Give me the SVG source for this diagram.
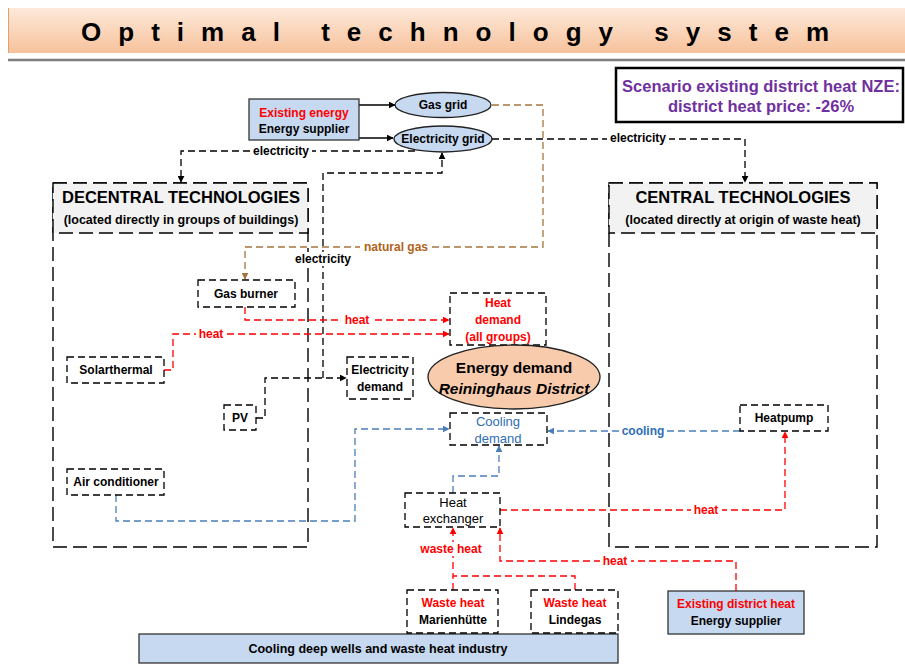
<svg xmlns="http://www.w3.org/2000/svg" width="905" height="666" viewBox="0 0 905 666">
<defs>
<linearGradient id="tg" x1="0" y1="0" x2="0" y2="1">
<stop offset="0" stop-color="#fde9da"/>
<stop offset="1" stop-color="#f7c29c"/>
</linearGradient>
<marker id="ak" viewBox="0 0 10 10" refX="9" refY="5" markerWidth="7" markerHeight="7" orient="auto" markerUnits="userSpaceOnUse"><path d="M0,0 L10,5 L0,10 z" fill="#000"/></marker>
<marker id="ar" viewBox="0 0 10 10" refX="9" refY="5" markerWidth="7" markerHeight="7" orient="auto" markerUnits="userSpaceOnUse"><path d="M0,0 L10,5 L0,10 z" fill="#ff0000"/></marker>
<marker id="ab" viewBox="0 0 10 10" refX="9" refY="5" markerWidth="7" markerHeight="7" orient="auto" markerUnits="userSpaceOnUse"><path d="M0,0 L10,5 L0,10 z" fill="#4a7ebb"/></marker>
<marker id="an" viewBox="0 0 10 10" refX="9" refY="5" markerWidth="7" markerHeight="7" orient="auto" markerUnits="userSpaceOnUse"><path d="M0,0 L10,5 L0,10 z" fill="#a5753f"/></marker>
</defs>
<style>
text{font-family:"Liberation Sans",Arial,sans-serif;font-size:12px;text-anchor:middle}
.b{font-weight:bold}
.red{fill:#ff0000}
.blu{fill:#2f6eb5}
.brn{fill:#b0621a}
.pur{fill:#7030a0}
.node{fill:#fff;stroke:#000;stroke-width:1.3;stroke-dasharray:7 4}
.big{fill:#fff;stroke:#000;stroke-width:1.4;stroke-dasharray:14 6}
.hdr{fill:#f2f2f2;stroke:#000;stroke-width:1.4;stroke-dasharray:14 6}
.sup{fill:#c6d9f0;stroke:#333;stroke-width:1.3}
.ell{fill:#c6d9f0;stroke:#222;stroke-width:1.3}
.ck{fill:none;stroke:#000;stroke-width:1.3;stroke-dasharray:7 4}
.cr{fill:none;stroke:#ff0000;stroke-width:1.3;stroke-dasharray:7 4}
.cb{fill:none;stroke:#4a7ebb;stroke-width:1.3;stroke-dasharray:7 4}
.cn{fill:none;stroke:#a5753f;stroke-width:1.3;stroke-dasharray:7 4}
.lbg{fill:#fff}
.m{font-size:13px}
</style>

<g id="title">
<rect x="8" y="8" width="897" height="45" fill="url(#tg)"/>
<line x1="8.5" y1="8" x2="8.5" y2="53" stroke="#e0a070" stroke-width="1"/>
<text x="455" y="41" class="b" style="font-size:26px" textLength="748" lengthAdjust="spacing">Optimal technology system</text>
<line x1="8" y1="60" x2="905" y2="60" stroke="#7f7f7f" stroke-width="2.5"/>
</g>

<g id="scenario">
<rect x="616" y="68" width="287" height="54" fill="#fff" stroke="#000" stroke-width="2.5"/>
<text x="761" y="92" class="b pur" style="font-size:16.5px">Scenario existing district heat NZE:</text>
<text x="761" y="112" class="b pur" style="font-size:16.5px">district heat price: -26%</text>
</g>

<g id="decentral">
<rect x="53" y="183" width="255" height="364" class="big"/>
<rect x="53" y="183" width="255" height="50" class="hdr"/>
<text x="181" y="203" class="b" style="font-size:16.5px">DECENTRAL TECHNOLOGIES</text>
<text x="181" y="224" class="b" style="font-size:12.5px">(located directly in groups of buildings)</text>
</g>

<g id="central">
<rect x="609" y="183" width="268" height="364" class="big"/>
<rect x="609" y="183" width="268" height="50" class="hdr"/>
<text x="743" y="203" class="b" style="font-size:16.5px">CENTRAL TECHNOLOGIES</text>
<text x="743" y="224" class="b" style="font-size:12.5px">(located directly at origin of waste heat)</text>
</g>

<g id="connectors">
<line x1="359" y1="105" x2="395" y2="105" stroke="#000" stroke-width="1.3" marker-end="url(#ak)"/>
<line x1="359" y1="138" x2="393" y2="138" stroke="#000" stroke-width="1.3" marker-end="url(#ak)"/>
<path class="ck" d="M415,151 H181 V182" marker-end="url(#ak)"/>
<path class="ck" d="M492,139 H745 V182" marker-end="url(#ak)"/>
<path class="cn" d="M492,105 H543 V247 H245 V279" marker-end="url(#an)"/>
<path class="ck" d="M256,418 H265 V378 H346" marker-end="url(#ak)"/>
<path class="ck" d="M323,378 V173 H442 V153" marker-end="url(#ak)"/>
<path class="cr" d="M245,307 V320 H449" marker-end="url(#ar)"/>
<path class="cr" d="M164,370 H173 V334 H449" marker-end="url(#ar)"/>
<path class="cb" d="M116,495 V521 H355 V429 H449" marker-end="url(#ab)"/>
<path class="cb" d="M740,431 H548" marker-end="url(#ab)"/>
<path class="cb" d="M453,493 V476 H499 V446" marker-end="url(#ab)"/>
<path class="cr" d="M500,510 H785 V432" marker-end="url(#ar)"/>
<path class="cr" d="M575,590 V576 H453 V528" marker-end="url(#ar)"/>
<path class="cr" d="M453,590 V576"/>
<path class="cr" d="M736,591 V561 H500 V528" marker-end="url(#ar)"/>

<rect x="250" y="144" width="62" height="14" class="lbg"/>
<text x="281" y="155" class="b">electricity</text>
<rect x="607" y="131" width="62" height="14" class="lbg"/>
<text x="638" y="142" class="b">electricity</text>
<rect x="360" y="240" width="72" height="14" class="lbg"/>
<text x="396" y="251" class="b brn">natural gas</text>
<rect x="292" y="252" width="62" height="14" class="lbg"/>
<text x="323" y="263" class="b">electricity</text>
<rect x="342" y="313" width="31" height="14" class="lbg"/>
<text x="357" y="324" class="b red">heat</text>
<rect x="196" y="327" width="31" height="14" class="lbg"/>
<text x="211" y="338" class="b red">heat</text>
<rect x="620" y="424" width="46" height="14" class="lbg"/>
<text x="643" y="435" class="b blu">cooling</text>
<rect x="691" y="503" width="31" height="14" class="lbg"/>
<text x="706" y="514" class="b red">heat</text>
<rect x="417" y="542" width="69" height="14" class="lbg"/>
<text x="451" y="553" class="b red">waste heat</text>
<rect x="600" y="554" width="31" height="14" class="lbg"/>
<text x="615" y="565" class="b red">heat</text>
</g>

<g id="supplier">
<rect x="249" y="99" width="110" height="41" class="sup"/>
<text x="304" y="117" class="b red">Existing energy</text>
<text x="304" y="133" class="b">Energy supplier</text>
</g>

<g id="gas-grid">
<ellipse cx="443" cy="105" rx="48" ry="12.5" class="ell"/>
<text x="443" y="109" class="b">Gas grid</text>
</g>

<g id="electricity-grid">
<ellipse cx="443" cy="139" rx="49" ry="13" class="ell"/>
<text x="443" y="143" class="b">Electricity grid</text>
</g>

<g id="gas-burner">
<rect x="198" y="280" width="97" height="27" class="node"/>
<text x="246" y="298" class="b">Gas burner</text>
</g>

<g id="solarthermal">
<rect x="67" y="357" width="97" height="26" class="node"/>
<text x="116" y="374" class="b">Solarthermal</text>
</g>

<g id="pv">
<rect x="224" y="405" width="32" height="25" class="node"/>
<text x="240" y="422" class="b">PV</text>
</g>

<g id="air-conditioner">
<rect x="67" y="469" width="97" height="26" class="node"/>
<text x="116" y="486" class="b">Air conditioner</text>
</g>

<g id="heat-demand">
<rect x="450" y="293" width="96" height="52" class="node"/>
<text x="498" y="307" class="b red">Heat</text>
<text x="498" y="324" class="b red">demand</text>
<text x="498" y="341" class="b red">(all groups)</text>
</g>

<g id="electricity-demand">
<rect x="347" y="357" width="66" height="42" class="node"/>
<text x="380" y="374" class="b">Electricity</text>
<text x="380" y="391" class="b">demand</text>
</g>

<g id="energy-demand">
<ellipse cx="514" cy="377" rx="86" ry="32" fill="#f8cbad" stroke="#222" stroke-width="1.3"/>
<text x="514" y="373" class="b" style="font-size:15.5px">Energy demand</text>
<text x="514" y="394" class="b" style="font-size:15.5px;font-style:italic">Reininghaus District</text>
</g>

<g id="cooling-demand">
<rect x="450" y="413" width="97" height="32" class="node"/>
<text x="498" y="426" class="blu m">Cooling</text>
<text x="498" y="443" class="blu m">demand</text>
</g>

<g id="heatpump">
<rect x="740" y="405" width="88" height="26" class="node"/>
<text x="784" y="422" class="b">Heatpump</text>
</g>

<g id="heat-exchanger">
<rect x="405" y="493" width="95" height="34" class="node"/>
<text x="453" y="507" class="m">Heat</text>
<text x="453" y="523" class="m">exchanger</text>
</g>

<g id="cooling-wells">
<rect x="139" y="634" width="479" height="29" class="sup"/>
<text x="378" y="653" class="b" style="font-size:12.5px">Cooling deep wells and waste heat industry</text>
</g>

<g id="waste-marienhuette">
<rect x="407" y="590" width="91" height="43" class="node"/>
<text x="453" y="607" class="b red">Waste heat</text>
<text x="453" y="624" class="b">Marienhütte</text>
</g>

<g id="waste-lindegas">
<rect x="531" y="590" width="87" height="43" class="node"/>
<text x="575" y="607" class="b red">Waste heat</text>
<text x="575" y="624" class="b">Lindegas</text>
</g>

<g id="district-heat-supplier">
<rect x="668" y="591" width="136" height="43" class="sup"/>
<text x="736" y="608" class="b red">Existing district heat</text>
<text x="736" y="625" class="b">Energy supplier</text>
</g>
</svg>
